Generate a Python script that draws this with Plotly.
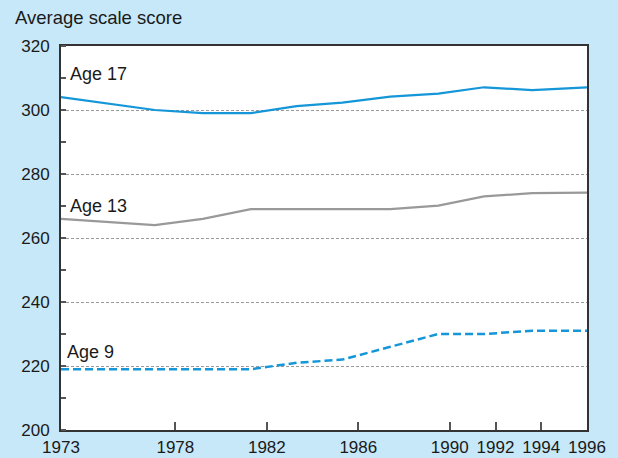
import plotly.graph_objects as go

# Data
years = [1973, 1975.1, 1977.1, 1979.2, 1981.3, 1983.3, 1985.3, 1987.4, 1989.5, 1991.5, 1993.6, 1996]
age17 = [304, 302, 300, 299, 299, 301.2, 302.3, 304.2, 305.1, 307.1, 306.2, 307.1]
age13 = [266, 265, 264, 266, 269, 269, 269, 269, 270.1, 273, 274, 274.2]
age9 = [219, 219, 219, 219, 219, 221, 222, 226, 230, 230, 231, 231]

x_ticks = [1973, 1978, 1982, 1986, 1990, 1992, 1994, 1996]
x_labels = ["1973", "1978", "1982", "1986", "1990", "1992", "1994", "1996"]
y_ticks = [200, 220, 240, 260, 280, 300, 320]
y_labels = ["200", "220", "240", "260", "280", "300", "320"]

series_labels = ["Age 17", "Age 13", "Age 9"]

W, H = 618, 458
L, R, T, B = 61, 31, 46, 28
PW, PH = W - L - R, H - T - B

BG = "#c7e8f8"
BLUE = "#1496d8"
GRAY = "#999999"
FONT = "Liberation Sans, Arial, sans-serif"

fig = go.Figure()
fig.add_trace(go.Scatter(x=years, y=age17, mode="lines",
                         line=dict(color=BLUE, width=2.2), name=series_labels[0]))
fig.add_trace(go.Scatter(x=years, y=age13, mode="lines",
                         line=dict(color=GRAY, width=2.2), name=series_labels[1]))
fig.add_trace(go.Scatter(x=years, y=age9, mode="lines",
                         line=dict(color=BLUE, width=2.5, dash="8px,4px"), name=series_labels[2]))


def px_x(px):
    return (px - L) / PW


def px_y(py):
    return (H - B - py) / PH


label_pos = [(68, 74), (68, 206), (65, 352)]
for text, (lx, ly) in zip(series_labels, label_pos):
    fig.add_annotation(text=text, xref="paper", yref="paper", x=px_x(lx), y=px_y(ly),
                       xanchor="left", yanchor="middle", showarrow=False,
                       font=dict(family=FONT, size=18, color="#1a1a1a"))

fig.update_layout(
    width=W, height=H,
    margin=dict(l=L, r=R, t=T, b=B, pad=0, autoexpand=False),
    paper_bgcolor=BG, plot_bgcolor="white",
    showlegend=False,
    title=dict(text="Average scale score", x=15 / W, xanchor="left", xref="container",
               y=1 - 18 / H, yanchor="middle", yref="container",
               font=dict(family=FONT, size=18.5, color="#1a1a1a")),
    font=dict(family=FONT, size=17, color="#1a1a1a"),
)

fig.update_xaxes(
    range=[1973, 1996], tickvals=x_ticks, ticktext=x_labels,
    ticks="inside", ticklen=8, tickwidth=1.5, tickcolor="#555555",
    showline=True, linecolor="#333333", linewidth=2, mirror=True,
    showgrid=False, zeroline=False, automargin=False, ticklabelstandoff=1,
    tickfont=dict(family=FONT, size=17, color="#1a1a1a"),
)
fig.update_yaxes(
    range=[200, 320], tickvals=y_ticks, ticktext=y_labels,
    ticks="", showline=True, linecolor="#333333", linewidth=2, mirror=True,
    showgrid=True, gridcolor="#9a9a9a", gridwidth=1, griddash="3px,2px",
    zeroline=False, ticklabelstandoff=6, automargin=False,
    minor=dict(dtick=10, tick0=200, ticks="inside", ticklen=5, tickwidth=1.5,
               tickcolor="#555555", showgrid=False),
    tickfont=dict(family=FONT, size=17, color="#1a1a1a"),
)

fig.write_html("out.html", config={"displayModeBar": False},
               post_script="document.body.style.margin='0';document.body.style.overflow='hidden';")
